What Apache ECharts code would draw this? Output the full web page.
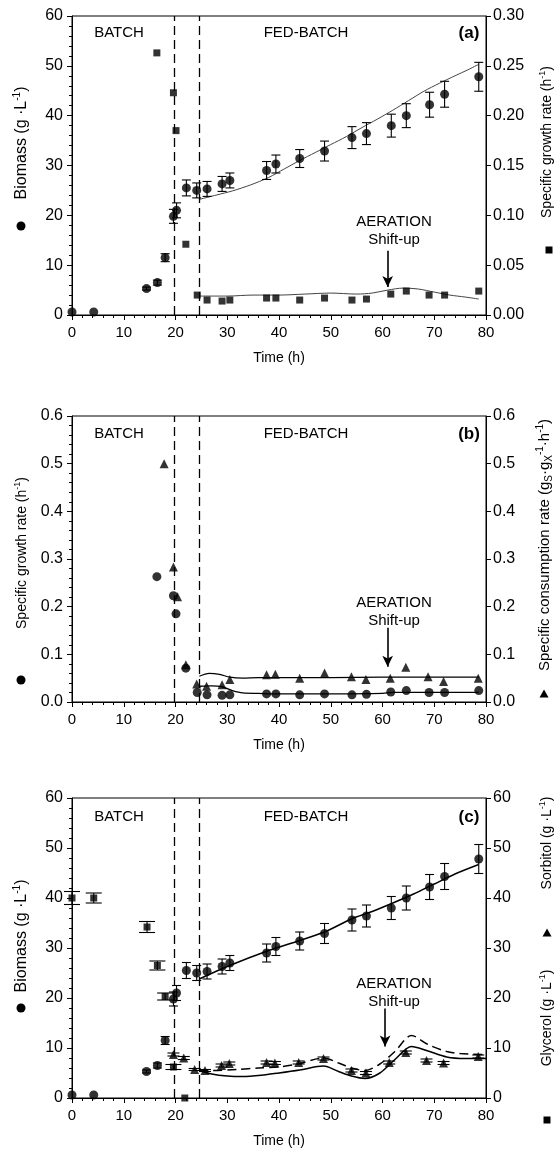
<!DOCTYPE html>
<html><head><meta charset="utf-8">
<script src="https://cdn.jsdelivr.net/npm/echarts@6/dist/echarts.min.js"></script>
<style>html,body{margin:0;padding:0;background:#fff}#c{width:559px;height:1156px}</style>
</head><body><div id="c"></div>
<script>
// ---------- DATA ----------
const phaseLines = [19.7, 24.6];
const shiftUpTime = 61;
// Biomass (panels a & c)
const biomassTime = [0, 4.2, 14.4, 16.5, 18.0, 19.6, 20.2, 22.1, 24.1, 26.1, 29.0, 30.5, 37.6, 39.4, 44.0, 48.8, 54.1, 56.9, 61.7, 64.6, 69.1, 72.0, 78.6];
const biomass     = [0.6, 0.6, 5.3, 6.5, 11.5, 19.8, 21.0, 25.5, 25.0, 25.3, 26.3, 27.0, 29.0, 30.3, 31.4, 32.9, 35.6, 36.4, 38.0, 40.0, 42.2, 44.3, 47.8];
const biomassErr  = [0, 0, 0.3, 0.5, 0.8, 1.4, 1.5, 1.6, 1.5, 1.5, 1.5, 1.5, 1.8, 1.8, 1.8, 2.0, 2.2, 2.2, 2.3, 2.4, 2.5, 2.6, 2.9];
// Specific growth rate (panels a & b)
const muTime = [16.4, 19.6, 20.1, 22.0, 24.2, 26.1, 29.0, 30.5, 37.6, 39.4, 44.0, 48.8, 54.1, 56.9, 61.6, 64.6, 69.0, 72.0, 78.6];
const mu     = [0.263, 0.223, 0.185, 0.071, 0.020, 0.015, 0.014, 0.015, 0.017, 0.017, 0.015, 0.017, 0.015, 0.016, 0.021, 0.024, 0.020, 0.020, 0.024];
// Specific consumption rate (panel b)
const qsTime = [17.8, 19.6, 20.4, 22.0, 24.1, 26.0, 29.0, 30.5, 37.6, 39.3, 44.0, 48.8, 54.0, 56.8, 61.5, 64.5, 68.8, 71.8, 78.5];
const qs     = [0.50, 0.283, 0.221, 0.078, 0.038, 0.033, 0.036, 0.047, 0.057, 0.058, 0.050, 0.061, 0.053, 0.047, 0.050, 0.073, 0.053, 0.043, 0.050];
// Glycerol (panel c)
const glyTime = [0, 4.2, 14.5, 16.5, 18.0, 19.6, 21.8];
const glycerol = [40.0, 40.0, 34.2, 26.5, 20.3, 6.2, 0];
const glyErr   = [1.3, 1.0, 1.1, 0.9, 0.7, 0.5, 0];
// Sorbitol (panel c)
const sorTime = [19.6, 21.6, 23.7, 25.7, 28.9, 30.4, 37.6, 39.2, 43.8, 48.6, 54.0, 56.8, 61.3, 64.5, 68.5, 71.8, 78.5];
const sorbitol = [8.7, 8.0, 5.7, 5.5, 6.5, 6.9, 7.1, 7.0, 7.1, 7.9, 5.5, 5.0, 7.1, 9.1, 7.5, 7.0, 8.3];
const sorErr   = [0.3, 0.3, 0.2, 0.2, 0.3, 0.3, 0.3, 0.3, 0.3, 0.3, 0.3, 0.3, 0.3, 0.3, 0.3, 0.3, 0.3];
// Model curves
const fitXA_t = [24.6, 28, 31, 34.5, 38, 41, 44, 47, 50, 53, 56, 59, 62, 65, 68, 71, 74, 76.5, 78.6];
const fitXA   = [23.2, 24.1, 24.9, 26.1, 27.6, 29.3, 31.0, 32.6, 34.2, 35.8, 37.6, 39.3, 41.1, 43.0, 44.9, 46.5, 48.0, 49.2, 50.3];
const fitMuA_t = [24.6, 30, 35, 40, 45, 50, 55, 58, 61, 64, 67, 70, 73, 76, 78.6];
const fitMuA   = [0.019, 0.019, 0.020, 0.020, 0.021, 0.022, 0.021, 0.022, 0.025, 0.027, 0.026, 0.023, 0.020, 0.018, 0.016];
const fitQsB_t = [24.6, 26.5, 28.5, 30.5, 33, 36, 40, 50, 60, 70, 78.6];
const fitQsB   = [0.054, 0.060, 0.058, 0.052, 0.050, 0.051, 0.051, 0.051, 0.052, 0.052, 0.052];
const fitMuB_t = [24.6, 27, 29, 31, 33, 36, 40, 50, 60, 62, 70, 78.6];
const fitMuB   = [0.033, 0.034, 0.032, 0.024, 0.019, 0.018, 0.017, 0.017, 0.018, 0.020, 0.020, 0.020];
const fitXC_t = [24.6, 30, 38, 44, 49, 54, 58, 62, 66, 70, 74, 78.6];
const fitXC   = [23.8, 26.3, 29.5, 31.5, 33.3, 35.8, 37.3, 39.0, 40.8, 42.8, 44.8, 46.7];
const fitSolid_t = [24.6, 27, 30, 33, 37, 40, 44, 48.6, 51.5, 54, 56.6, 59.5, 62.4, 65.6, 68.5, 72.4, 76, 80];
const fitSolid   = [5.5, 4.8, 4.4, 4.3, 4.6, 5.0, 5.6, 6.4, 5.3, 4.4, 3.9, 5.0, 7.7, 10.3, 9.5, 8.2, 7.9, 7.9];
const fitDash_t = [24.6, 27, 32, 36, 40, 44, 48.6, 51.5, 54, 56.6, 59.5, 62.4, 65.6, 68.8, 72.4, 75, 80];
const fitDash   = [5.6, 5.5, 5.7, 6.0, 6.2, 6.9, 8.0, 7.0, 6.0, 5.5, 6.8, 9.3, 12.5, 10.7, 9.3, 8.9, 8.7];

// ---------- HELPERS ----------
const FONT = 'Liberation Sans, Arial, sans-serif';
const zip = (a, b) => a.map((v, i) => [v, b[i]]);
const GRIDS = [{top: 16, height: 299}, {top: 416, height: 286}, {top: 798, height: 300}];

function xAxis(i) {
  return {gridIndex: i, type: 'value', min: 0, max: 80, interval: 10,
    axisLine: {lineStyle: {color: '#000', width: 1}},
    axisTick: {length: 5, lineStyle: {color: '#000'}},
    minorTick: {show: true, splitNumber: 5, length: 3, lineStyle: {color: '#000'}},
    splitLine: {show: false},
    axisLabel: {color: '#000', fontSize: 15, fontFamily: FONT, margin: 10},
    name: 'Time (h)', nameLocation: 'middle', nameGap: 36,
    nameTextStyle: {color: '#000', fontSize: 14, fontFamily: FONT}};
}
function yAxis(i, pos, max, interval, dec, minor) {
  return {gridIndex: i, type: 'value', position: pos, min: 0, max: max, interval: interval,
    axisLine: {show: true, onZero: false, lineStyle: {color: '#000', width: 1}},
    axisTick: {show: true, length: 5, lineStyle: {color: '#000'}},
    minorTick: {show: minor, splitNumber: 5, length: 3, lineStyle: {color: '#000'}},
    splitLine: {show: false},
    axisLabel: {color: '#000', fontSize: 16, fontFamily: FONT, margin: pos === 'left' ? 9 : 7,
      formatter: v => v.toFixed(dec)}};
}
function scatter(xi, yi, xs, ys, sym, size, z) {
  return {type: 'scatter', xAxisIndex: xi, yAxisIndex: yi, data: zip(xs, ys),
    symbol: sym, symbolSize: size, itemStyle: {color: '#000'}, z: z || 5, silent: true};
}
function line(xi, yi, xs, ys, opts) {
  return Object.assign({type: 'line', xAxisIndex: xi, yAxisIndex: yi, data: zip(xs, ys),
    smooth: 0.3, showSymbol: false, symbol: 'none', silent: true, z: 3,
    lineStyle: {color: '#000', width: 1.3}}, opts || {});
}
function errBars(xi, yi, xs, ys, es, cap) {
  return {type: 'custom', xAxisIndex: xi, yAxisIndex: yi, silent: true, z: 4,
    data: xs.map((x, i) => [x, ys[i], es[i]]), encode: {x: 0, y: 1},
    renderItem: (p, api) => {
      const x = api.value(0), y = api.value(1), e = api.value(2);
      if (!e) return null;
      const lo = api.coord([x, y - e]), hi = api.coord([x, y + e]);
      const st = {stroke: '#000', lineWidth: 1.1};
      return {type: 'group', children: [
        {type: 'line', shape: {x1: lo[0], y1: lo[1], x2: hi[0], y2: hi[1]}, style: st},
        {type: 'line', shape: {x1: lo[0] - cap, y1: lo[1], x2: lo[0] + cap, y2: lo[1]}, style: st},
        {type: 'line', shape: {x1: hi[0] - cap, y1: hi[1], x2: hi[0] + cap, y2: hi[1]}, style: st}]};
    }};
}
function phaseAndArrow(xi, yi, y0, y1, arrowT) {
  return {type: 'line', xAxisIndex: xi, yAxisIndex: yi, data: [], silent: true,
    markLine: {silent: true, animation: false, symbol: 'none', label: {show: false},
      lineStyle: {color: '#000', type: [9, 5], width: 1.3},
      data: phaseLines.map(t => ({xAxis: t})).concat([
        [{coord: [arrowT, y0], symbol: 'none', lineStyle: {type: 'solid', width: 1.6}},
         {coord: [arrowT, y1], symbol: 'arrow', symbolSize: [8, 11], lineStyle: {type: 'solid', width: 1.6}}]])}};
}

// ---------- OPTION ----------
const series = [
  // panel a
  phaseAndArrow(0, 0, 12.9, 5.6, shiftUpTime),
  line(0, 0, fitXA_t, fitXA, {lineStyle: {color: '#444', width: 1}}),
  line(0, 1, fitMuA_t, fitMuA, {lineStyle: {color: '#444', width: 1}}),
  errBars(0, 0, biomassTime, biomass, biomassErr, 4.5),
  scatter(0, 0, biomassTime, biomass, 'circle', 9),
  scatter(0, 1, muTime, mu, 'rect', 7),
  // panel b
  phaseAndArrow(1, 2, 0.156, 0.074, shiftUpTime),
  line(1, 3, fitQsB_t, fitQsB),
  line(1, 2, fitMuB_t, fitMuB),
  scatter(1, 2, muTime, mu, 'circle', 9),
  scatter(1, 3, qsTime, qs, 'triangle', 9),
  // panel c
  phaseAndArrow(2, 4, 17.9, 10.3, 60.5),
  line(2, 4, fitXC_t, fitXC, {lineStyle: {color: '#000', width: 1.5}}),
  line(2, 5, fitSolid_t, fitSolid, {lineStyle: {color: '#000', width: 1.5}}),
  line(2, 5, fitDash_t, fitDash, {lineStyle: {color: '#000', width: 1.5, type: [9, 5]}}),
  errBars(2, 4, biomassTime, biomass, biomassErr, 4.5),
  errBars(2, 5, glyTime, glycerol, glyErr, 8),
  errBars(2, 5, sorTime, sorbitol, sorErr, 6),
  scatter(2, 4, biomassTime, biomass, 'circle', 9),
  scatter(2, 5, glyTime, glycerol, 'rect', 7),
  scatter(2, 5, sorTime, sorbitol, 'triangle', 9)
];

function txt(x, y, s, size, bold) {
  return {type: 'text', x: x, y: y, silent: true, z: 10,
    style: {text: s, fill: '#000', font: (bold ? 'bold ' : '') + size + 'px ' + FONT,
      align: 'center', verticalAlign: 'middle'}};
}
function richSet(fs) {
  return {
    a: {fontSize: fs, fontFamily: FONT, fill: '#000', lineHeight: fs + 4, verticalAlign: 'middle'},
    s: {fontSize: Math.round(fs * 0.65), fontFamily: FONT, fill: '#000', lineHeight: fs + 4, verticalAlign: 'top'},
    b: {fontSize: Math.round(fs * 0.65), fontFamily: FONT, fill: '#000', lineHeight: fs + 4, verticalAlign: 'bottom'}
  };
}
function vtxt(x, y, s, fs) {
  fs = fs || 14;
  return {type: 'text', x: x, y: y, rotation: Math.PI / 2, silent: true, z: 10,
    style: {text: s, rich: richSet(fs), fill: '#000', font: fs + 'px ' + FONT, align: 'center', verticalAlign: 'middle'}};
}
const dot = (x, y) => ({type: 'circle', shape: {cx: x, cy: y, r: 4.5}, style: {fill: '#000'}, silent: true});
const sq = (x, y) => ({type: 'rect', shape: {x: x - 3.5, y: y - 3.5, width: 7, height: 7}, style: {fill: '#000'}, silent: true});
const tri = (x, y) => ({type: 'polygon', shape: {points: [[x, y - 4.5], [x + 4.5, y + 3.5], [x - 4.5, y + 3.5]]}, style: {fill: '#000'}, silent: true});

const graphics = [];
[[33, '(a)'], [434, '(b)'], [817, '(c)']].forEach(([y, lab]) => {
  graphics.push(txt(119, y, 'BATCH', 15), txt(306, y, 'FED-BATCH', 15), txt(469, y, lab, 17, true));
});
[[222, 240], [603, 621], [984, 1002]].forEach(([y1, y2]) => {
  graphics.push(txt(394, y1, 'AERATION', 15), txt(394, y2, 'Shift-up', 15));
});
graphics.push(
  vtxt(22, 143, '{a|Biomass (g ·L}{s|-1}{a|)}', 16), dot(21, 226),
  vtxt(547, 142, '{a|Specific growth rate (h}{s|-1}{a|)}', 14), sq(549, 250),
  vtxt(22, 553, '{a|Specific growth rate (h}{s|-1}{a|)}', 14), dot(21, 680),
  vtxt(545, 545, '{a|Specific consumption rate (g}{b|S}{a|·g}{b|X}{s|-1}{a|·h}{s|-1}{a|)}', 15), tri(544, 694),
  vtxt(22, 936, '{a|Biomass (g ·L}{s|-1}{a|)}', 16), dot(21, 1008),
  vtxt(547, 843, '{a|Sorbitol (g ·L}{s|-1}{a|)}', 14), tri(547, 933),
  vtxt(547, 1018, '{a|Glycerol (g ·L}{s|-1}{a|)}', 14), sq(547, 1120)
);

const option = {
  animation: false,
  backgroundColor: '#fff',
  textStyle: {fontFamily: FONT},
  grid: GRIDS.map(g => ({left: 72, width: 414, top: g.top, height: g.height, show: true,
    borderColor: '#000', borderWidth: 1, backgroundColor: 'transparent'})),
  xAxis: [xAxis(0), xAxis(1), xAxis(2)],
  yAxis: [
    yAxis(0, 'left', 60, 10, 0, true), yAxis(0, 'right', 0.30, 0.05, 2, false),
    yAxis(1, 'left', 0.6, 0.1, 1, true), yAxis(1, 'right', 0.6, 0.1, 1, false),
    yAxis(2, 'left', 60, 10, 0, true), yAxis(2, 'right', 60, 10, 0, false)
  ],
  series: series,
  graphic: graphics
};
const chart = echarts.init(document.getElementById('c'), null, {renderer: 'canvas'});
chart.setOption(option);
</script></body></html>
